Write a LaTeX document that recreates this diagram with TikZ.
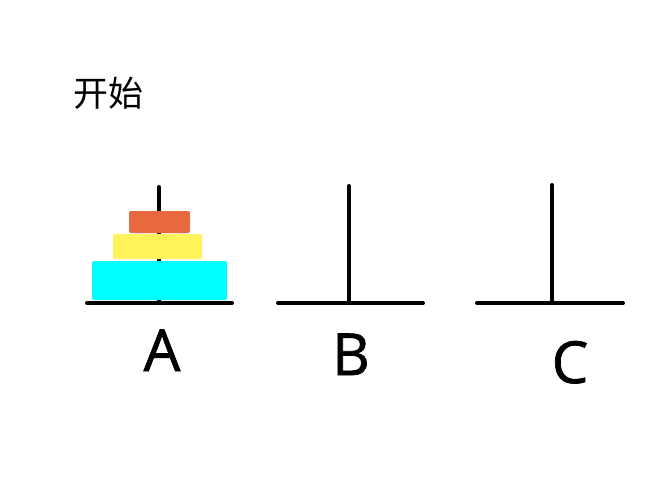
\documentclass[tikz,border=0pt]{standalone}
\usepackage{fontspec}
\setmainfont{Open Sans}
\newfontfamily\pegfont{Open Sans}[FakeBold=1.2]
\newfontfamily\cjk{Noto Sans CJK SC}
\definecolor{discorange}{HTML}{E8693F}
\definecolor{discyellow}{HTML}{FFF25A}
\definecolor{disccyan}{HTML}{00FFFF}
\begin{document}
\begin{tikzpicture}[x=1pt,y=-1pt,
  rod/.style={line width=4pt,line cap=round,black},
  disc/.style={rounded corners=2pt,draw=none},
  pegname/.style={font=\pegfont\fontsize{58}{58}\selectfont,inner sep=0pt,anchor=base}]
\useasboundingbox[fill=white] (0,0) rectangle (667,500);
% rods
\coordinate (Atop) at (159,187); \coordinate (Abot) at (159,303);
\coordinate (Al) at (87,303); \coordinate (Ar) at (232,303);
\coordinate (Btop) at (349,186); \coordinate (Bbot) at (349,303);
\coordinate (Bl) at (278,303); \coordinate (Br) at (423,303);
\coordinate (Ctop) at (552,185); \coordinate (Cbot) at (552,303);
\coordinate (Cl) at (477,303); \coordinate (Cr) at (623,303);
\draw[rod] (Atop) -- (Abot); \draw[rod] (Al) -- (Ar);
\draw[rod] (Btop) -- (Bbot); \draw[rod] (Bl) -- (Br);
\draw[rod] (Ctop) -- (Cbot); \draw[rod] (Cl) -- (Cr);
% discs
\fill[disc,discorange] (129,211) rectangle (190,233);
\fill[disc,discyellow] (113,234) rectangle (202,259);
\fill[disc,disccyan] (92,261) rectangle (227,300);
% labels
\node[pegname] (la) at (162,371) {A};
\node[pegname] (lb) at (351,375) {B};
\node[pegname] (lc) at (570,383) {C};
\node[font=\cjk\fontsize{35}{35}\selectfont,inner sep=0pt,anchor=west] (start) at (73,93) {开始};
\end{tikzpicture}
\end{document}
